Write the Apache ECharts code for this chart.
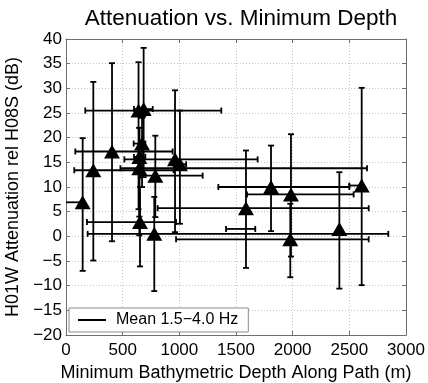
<!DOCTYPE html>
<html>
<head>
<meta charset="utf-8">
<script src="https://cdn.jsdelivr.net/npm/echarts@6/dist/echarts.min.js"></script>
<style>
html,body{margin:0;padding:0;background:#fff;}
#chart{width:428px;height:383px;}
</style>
</head>
<body>
<div id="chart"></div>
<script>
// ---- data ----
var xVals  = [147, 241, 406, 640, 685, 671, 647, 647, 653, 779, 788, 962, 1005, 1588, 1809, 1985, 1979, 2412, 2609];
var yVals  = [6.9, 13.4, 17.2, 25.5, 25.8, 18.8, 16.1, 13.8, 2.9, 0.5, 12.3, 15.6, 14.6, 5.7, 10.0, 8.5, -0.6, 1.5, 10.3];
var xLow   = [-100, 73, 82, 170, 600, 597, 600, 480, 185, 191, 660, 515, 950, 809, 1344, 1597, 971, 1412, 2500];
var xHigh  = [147, 950, 941, 1370, 765, 700, 700, 2656, 971, 2844, 1206, 1691, 1060, 2671, 2500, 2538, 2671, 1670, 2609];
var yLow   = [-7.0, -4.9, -1.0, 5.5, 12, 10, 0.2, 4, -6.1, -11.1, 3.9, 0.85, 2.55, -6.4, 1.05, -4.1, -8.3, -10.6, -9.9];
var yHigh  = [19.9, 31.3, 35.1, 35.3, 38.2, 24, 22, 22, 10, 8, 20.4, 29.6, 25.5, 17.4, 18.4, 20.7, 6.6, 13.0, 30.1];
var xTicks = [0, 500, 1000, 1500, 2000, 2500, 3000];
var yTicks = [-20, -15, -10, -5, 0, 5, 10, 15, 20, 25, 30, 35, 40];
var titleText = 'Attenuation vs. Minimum Depth';
var xTitle = 'Minimum Bathymetric Depth Along Path (m)';
var yTitle = 'H01W Attenuation rel H08S (dB)';
var legendName = 'Mean 1.5\u22124.0 Hz';

var X_MIN = xTicks[0], X_MAX = xTicks[xTicks.length - 1];
var Y_MIN = yTicks[0], Y_MAX = yTicks[yTicks.length - 1];

var barData = xVals.map(function (x, i) {
  return [x, yVals[i], xLow[i], xHigh[i], yLow[i], yHigh[i]];
});
var pointData = xVals.map(function (x, i) { return [x, yVals[i]]; });

var FONT = 'Liberation Sans, Arial, Helvetica, sans-serif';
var AXIS_COLOR = '#6e6e6e';
function minus(v) { return String(v).replace('-', '\u2212'); }

var chart = echarts.init(document.getElementById('chart'), null, {renderer: 'canvas'});

var cap = 3;
var lw = 1.8;
function renderBars(params, api) {
  var x = api.value(0), y = api.value(1);
  var xl = api.value(2), xh = api.value(3), yl = api.value(4), yh = api.value(5);
  var clipL = xl < X_MIN, clipR = xh > X_MAX;
  var pl = api.coord([Math.max(xl, X_MIN), y]);
  var ph = api.coord([Math.min(xh, X_MAX), y]);
  var pb = api.coord([x, yl]);
  var pt = api.coord([x, yh]);
  var st = {stroke: '#000', lineWidth: lw};
  var ch = [];
  ch.push({type: 'line', shape: {x1: pb[0], y1: pb[1], x2: pt[0], y2: pt[1]}, style: st});
  ch.push({type: 'line', shape: {x1: pb[0] - cap, y1: pb[1], x2: pb[0] + cap, y2: pb[1]}, style: st});
  ch.push({type: 'line', shape: {x1: pt[0] - cap, y1: pt[1], x2: pt[0] + cap, y2: pt[1]}, style: st});
  ch.push({type: 'line', shape: {x1: pl[0], y1: pl[1], x2: ph[0], y2: ph[1]}, style: st});
  if (!clipL) ch.push({type: 'line', shape: {x1: pl[0], y1: pl[1] - cap, x2: pl[0], y2: pl[1] + cap}, style: st});
  if (!clipR) ch.push({type: 'line', shape: {x1: ph[0], y1: ph[1] - cap, x2: ph[0], y2: ph[1] + cap}, style: st});
  return {type: 'group', children: ch};
}

var axisLineStyle = {show: true, onZero: false, lineStyle: {color: AXIS_COLOR, width: 1}};
var tickStyle = {show: true, inside: true, length: 4, lineStyle: {color: AXIS_COLOR, width: 1}};
var splitStyle = {show: true, lineStyle: {color: '#c4c4c4', width: 1, type: [1, 2]}};

var option = {
  backgroundColor: '#fff',
  animation: false,
  title: {
    text: titleText, left: 236, top: 2, textAlign: 'center',
    textStyle: {fontFamily: FONT, fontSize: 22.5, fontWeight: 'normal', color: '#000'}
  },
  grid: {left: 66, right: 22, top: 39, bottom: 48, containLabel: false, outerBoundsMode: 'none'},
  legend: {
    data: [{name: legendName, icon: 'rect'}],
    left: 69, top: 308, orient: 'horizontal',
    itemWidth: 28, itemHeight: 2,
    itemStyle: {color: '#000'},
    padding: [4, 10, 4, 9],
    borderColor: '#8a8a8a', borderWidth: 1, backgroundColor: '#fff',
    selectedMode: false,
    textStyle: {fontFamily: FONT, fontSize: 16, color: '#000', padding: [0, 0, 0, 5]}
  },
  xAxis: [{
    type: 'value', min: X_MIN, max: X_MAX, interval: 500, position: 'bottom',
    axisLine: axisLineStyle, axisTick: tickStyle, splitLine: splitStyle,
    axisLabel: {fontFamily: FONT, fontSize: 17, color: '#000', margin: 7, formatter: minus},
    name: xTitle, nameLocation: 'middle', nameGap: 23,
    nameTextStyle: {fontFamily: FONT, fontSize: 18, color: '#000'}
  }, {
    type: 'value', min: X_MIN, max: X_MAX, interval: 500, position: 'top',
    axisLine: axisLineStyle, axisTick: tickStyle, splitLine: {show: false}, axisLabel: {show: false}
  }],
  yAxis: [{
    type: 'value', min: Y_MIN, max: Y_MAX, interval: 5, position: 'left',
    axisLine: axisLineStyle, axisTick: tickStyle, splitLine: splitStyle,
    axisLabel: {fontFamily: FONT, fontSize: 17, color: '#000', margin: 4, formatter: minus},
    name: yTitle, nameLocation: 'middle', nameGap: 43, nameRotate: 90,
    nameTextStyle: {fontFamily: FONT, fontSize: 18, color: '#000'}
  }, {
    type: 'value', min: Y_MIN, max: Y_MAX, interval: 5, position: 'right',
    axisLine: axisLineStyle, axisTick: tickStyle, splitLine: {show: false}, axisLabel: {show: false}
  }],
  series: [{
    name: legendName, type: 'custom', xAxisIndex: 0, yAxisIndex: 0,
    renderItem: renderBars, data: barData, encode: {x: 0, y: 1},
    itemStyle: {color: '#000'}, z: 3, silent: true
  }, {
    name: 'points', type: 'scatter', xAxisIndex: 0, yAxisIndex: 0,
    data: pointData, symbol: 'triangle', symbolSize: [16, 14],
    itemStyle: {color: '#000', opacity: 1}, z: 4, silent: true
  }]
};
chart.setOption(option);
</script>
</body>
</html>
